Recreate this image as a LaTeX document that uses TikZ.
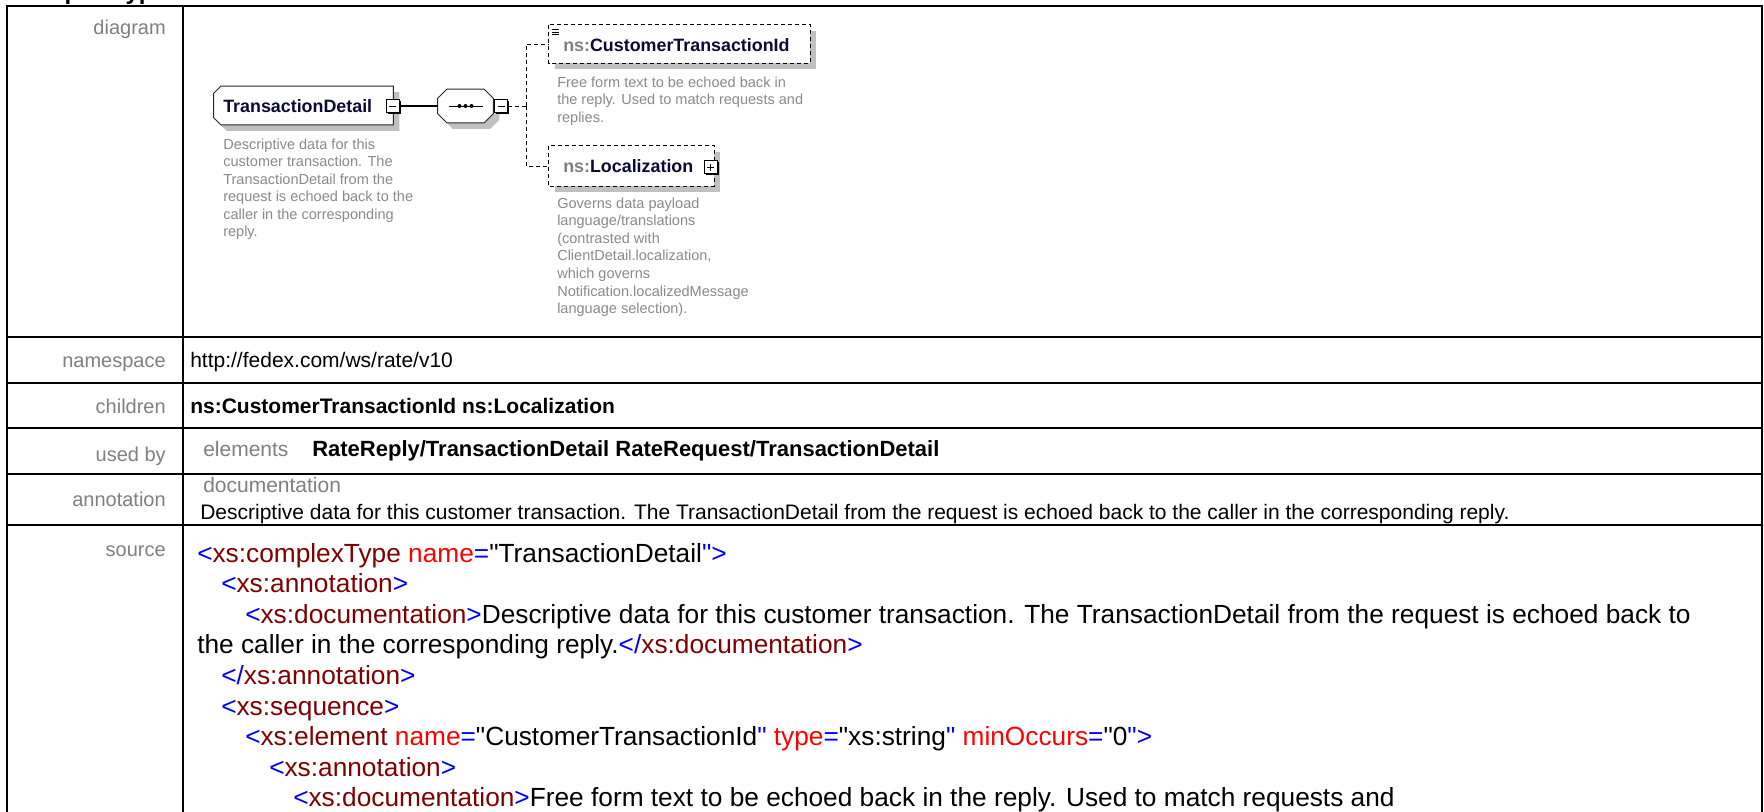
\documentclass[tikz,border=0pt]{standalone}
\usepackage{fontspec}
\setmainfont{Liberation Sans}
\newfontfamily\plainsans{Liberation Sans}
\usepackage{xcolor}
\usetikzlibrary{calc,positioning,shadows}

\definecolor{labelgray}{RGB}{128,128,128}
\definecolor{docgray}{RGB}{138,138,138}
\definecolor{tagblue}{RGB}{0,0,255}
\definecolor{tagmaroon}{RGB}{128,0,0}
\definecolor{attrred}{RGB}{255,0,0}
\definecolor{shadowgray}{RGB}{192,192,192}
\definecolor{namenavy}{RGB}{10,10,50}

%% xml source markup
\newcommand\xo{\textcolor{tagblue}{<}}
\newcommand\xcl{\textcolor{tagblue}{>}}
\newcommand\xend{\textcolor{tagblue}{</}}
\newcommand\xtag[1]{\textcolor{tagmaroon}{#1}}
\newcommand\xattr[2]{\textcolor{attrred}{#1}\textcolor{tagblue}{=}"#2\textcolor{tagblue}{"}}

\begin{document}
\begin{tikzpicture}[
  x=0.75pt, y=-0.75pt,
  tableline/.style={line width=1.65pt},
  rowlabel/.style={anchor=base east, inner sep=0, text=labelgray,
    font=\fontsize{15}{18}\selectfont},
  rowtext/.style={anchor=base west, inner sep=0,
    font=\fontsize{15.75}{19}\selectfont},
  rowbold/.style={rowtext, font=\fontsize{15.75}{19}\selectfont\bfseries},
  sublabel/.style={rowtext, text=labelgray},
  srcline/.style={anchor=base west, inner sep=0,
    font=\plainsans\fontsize{19.7}{23}\selectfont},
  geom/.style 2 args={rectangle, inner sep=0,
    minimum width=#1*0.75pt, minimum height=#2*0.75pt},
  elemname/.style={anchor=base west, inner sep=0, text=namenavy,
    font=\fontsize{13.4}{16}\selectfont\bfseries},
  doctext/.style={anchor=base west, inner sep=0, text=docgray,
    font=\fontsize{10.9}{13}\selectfont},
  boxline/.style={line width=0.75pt, draw=black!85},
  dashline/.style={line width=0.75pt, dash pattern=on 3pt off 2.25pt},
  shadowfill/.style={fill=shadowgray},
  toggle/.style={rectangle, draw, fill=white, line width=0.75pt,
    minimum size=9.75pt, inner sep=0,
    drop shadow={shadow xshift=1.2pt, shadow yshift=-1.2pt, fill=black, opacity=1}},
  minussign/.style={path picture={
    \draw[line width=0.75pt] ($(path picture bounding box.west)+(3,0)$)
      -- ($(path picture bounding box.east)+(-3,0)$);}},
  plussign/.style={path picture={
    \draw[line width=0.75pt] ($(path picture bounding box.west)+(3,0)$)
      -- ($(path picture bounding box.east)+(-3,0)$)
      ($(path picture bounding box.north)+(0,3)$)
      -- ($(path picture bounding box.south)+(0,-3)$);}}
]
\useasboundingbox (0,0) rectangle (1764,811);
\fill[white] (0,0) rectangle (1764,811);

%% ── TABLE ───────────────────────────────────────────────────────
\node[anchor=base west, inner sep=0, font=\fontsize{18}{21}\selectfont\bfseries]
  (doctitle) at (15,-0.5) {complexType};
\draw[tableline] (7,815) -- (7,6) -- (1762,6) -- (1762,815);
\draw[tableline] (183,6) -- (183,815);
\foreach \ry in {337,383,428,474,525}{
  \draw[tableline] (7,\ry) -- (1762,\ry);
}

%% row labels
\node[rowlabel] (lbdiagram) at (166,34) {diagram};
\node[rowlabel] (lbns) at (166,367.5) {namespace};
\node[rowlabel] (lbchildren) at (166,413) {children};
\node[rowlabel] (lbusedby) at (166,461) {used by};
\node[rowlabel] (lbannot) at (166,506) {annotation};
\node[rowlabel] (lbsource) at (166,556) {source};

%% row contents
\node[rowtext] (nsval) at (190,367.5) {http://fedex.com/ws/rate/v10};
\node[rowbold] (childval) at (190,413) {ns:CustomerTransactionId ns:Localization};
\node[sublabel] (usedkind) at (203,456) {elements};
\node[rowbold, font=\fontsize{16.5}{19}\selectfont\bfseries] (usedval) at (312,456)
  {RateReply/TransactionDetail RateRequest/TransactionDetail};
\node[sublabel] (annkind) at (203,492) {documentation};
\node[rowtext] (annval) at (200,519)
  {Descriptive data for this customer transaction. The TransactionDetail from the request is echoed back to the caller in the corresponding reply.};

%% source lines
\node[srcline] (src1) at (197,562) {\xo\xtag{xs:complexType} \xattr{name}{TransactionDetail}\xcl};
\node[srcline] (src2) at (221,592.6) {\xo\xtag{xs:annotation}\xcl};
\node[srcline] (src3) at (245,623.2) {\xo\xtag{xs:documentation}\xcl Descriptive data for this customer transaction. The TransactionDetail from the request is echoed back to};
\node[srcline] (src4) at (197,653.8) {the caller in the corresponding reply.\xend\xtag{xs:documentation}\xcl};
\node[srcline] (src5) at (221,684.4) {\xend\xtag{xs:annotation}\xcl};
\node[srcline] (src6) at (221,715) {\xo\xtag{xs:sequence}\xcl};
\node[srcline] (src7) at (245,745.6) {\xo\xtag{xs:element} \xattr{name}{CustomerTransactionId} \xattr{type}{xs:string} \xattr{minOccurs}{0}\xcl};
\node[srcline] (src8) at (269,776.2) {\xo\xtag{xs:annotation}\xcl};
\node[srcline] (src9) at (293,806.8) {\xo\xtag{xs:documentation}\xcl Free form text to be echoed back in the reply. Used to match requests and};

%% ── DIAGRAM ─────────────────────────────────────────────────────
%% element TransactionDetail
\node[geom={179}{38}] (td) at (303.5,105.5) {};
\fill[shadowfill] ($(td.north west)+(13,6)$) -- ($(td.north east)+(6,6)$)
  -- ($(td.south east)+(6,6)$) -- ($(td.south west)+(13,6)$)
  -- ($(td.south west)+(6,-1)$) -- ($(td.north west)+(6,13)$) -- cycle;
\draw[boxline, fill=white] ($(td.north west)+(7,0)$) -- (td.north east)
  -- (td.south east) -- ($(td.south west)+(7,0)$)
  -- ($(td.south west)+(0,-7)$) -- ($(td.north west)+(0,7)$) -- cycle;
\node[elemname] (tdname) at (223,112) {TransactionDetail};
\node[toggle, minussign] (tdtog) at (392.5,106) {};

%% sequence compositor
\node[geom={55}{33}] (seq) at (465.5,106) {};
\fill[shadowfill] ($(seq.north west)+(15,6)$) -- ($(seq.north east)+(-3,6)$)
  -- ($(seq.north east)+(6,15)$) -- ($(seq.south east)+(6,-3)$)
  -- ($(seq.south east)+(-3,6)$) -- ($(seq.south west)+(15,6)$)
  -- ($(seq.south west)+(6,-3)$) -- ($(seq.north west)+(6,15)$) -- cycle;
\draw[boxline, fill=white] ($(seq.north west)+(9,0)$) -- ($(seq.north east)+(-9,0)$)
  -- ($(seq.north east)+(0,9)$) -- ($(seq.south east)+(0,-9)$)
  -- ($(seq.south east)+(-9,0)$) -- ($(seq.south west)+(9,0)$)
  -- ($(seq.south west)+(0,-9)$) -- ($(seq.north west)+(0,9)$) -- cycle;
\draw[line width=0.75pt] ($(seq.center)+(-17,0)$) -- ($(seq.center)+(17,0)$);
\foreach \dx in {-6,0,6}{
  \fill ($(seq.center)+(\dx,0)$) circle[radius=1.5pt];
}
\node[toggle, minussign] (seqtog) at (501,106) {};
\draw[line width=1pt] (tdtog.east) -- (seq.west);

%% child elements
\node[geom={261}{38}] (cti) at (679.5,44) {};
\node[geom={165}{40}] (loc) at (631.5,166) {};
\coordinate (fork) at (526,106);
\draw[dashline] (seqtog.east) -- (fork);
\draw[dashline] (fork) |- (cti.west);
\draw[dashline] (fork) |- (loc.west);

\fill[shadowfill] ($(cti.north west)+(6,6)$) rectangle ($(cti.south east)+(6,6)$);
\draw[dashline, fill=white] (cti.north west) rectangle (cti.south east);
\foreach \dy in {0,2.5,5}{
  \draw[line width=0.6pt] ($(cti.north west)+(3,5+\dy)$) -- ++(7,0);
}
\node[elemname] (ctiname) at (563,51) {\textcolor{labelgray}{ns:}CustomerTransactionId};

\fill[shadowfill] ($(loc.north west)+(6,6)$) rectangle ($(loc.south east)+(6,6)$);
\draw[dashline, fill=white] (loc.north west) rectangle (loc.south east);
\node[elemname] (locname) at (563,172) {\textcolor{labelgray}{ns:}Localization};
\node[toggle, plussign] (loctog) at (710.5,167) {};

%% documentation texts
\foreach \docline [count=\i from 0] in {Descriptive data for this,
    customer transaction. The, TransactionDetail from the,
    request is echoed back to the, caller in the corresponding, reply.}{
  \node[doctext] (tddoc\i) at (223,{149+17.5*\i}) {\docline};
}
\foreach \docline [count=\i from 0] in {Free form text to be echoed back in,
    the reply. Used to match requests and, replies.}{
  \node[doctext] (ctidoc\i) at (557,{87+17.5*\i}) {\docline};
}
\foreach \docline [count=\i from 0] in {Governs data payload,
    language/translations, {(contrasted with}, {ClientDetail.localization,},
    which governs, Notification.localizedMessage, {language selection).}}{
  \node[doctext] (locdoc\i) at (557,{208+17.6*\i}) {\docline};
}

\end{tikzpicture}
\end{document}
